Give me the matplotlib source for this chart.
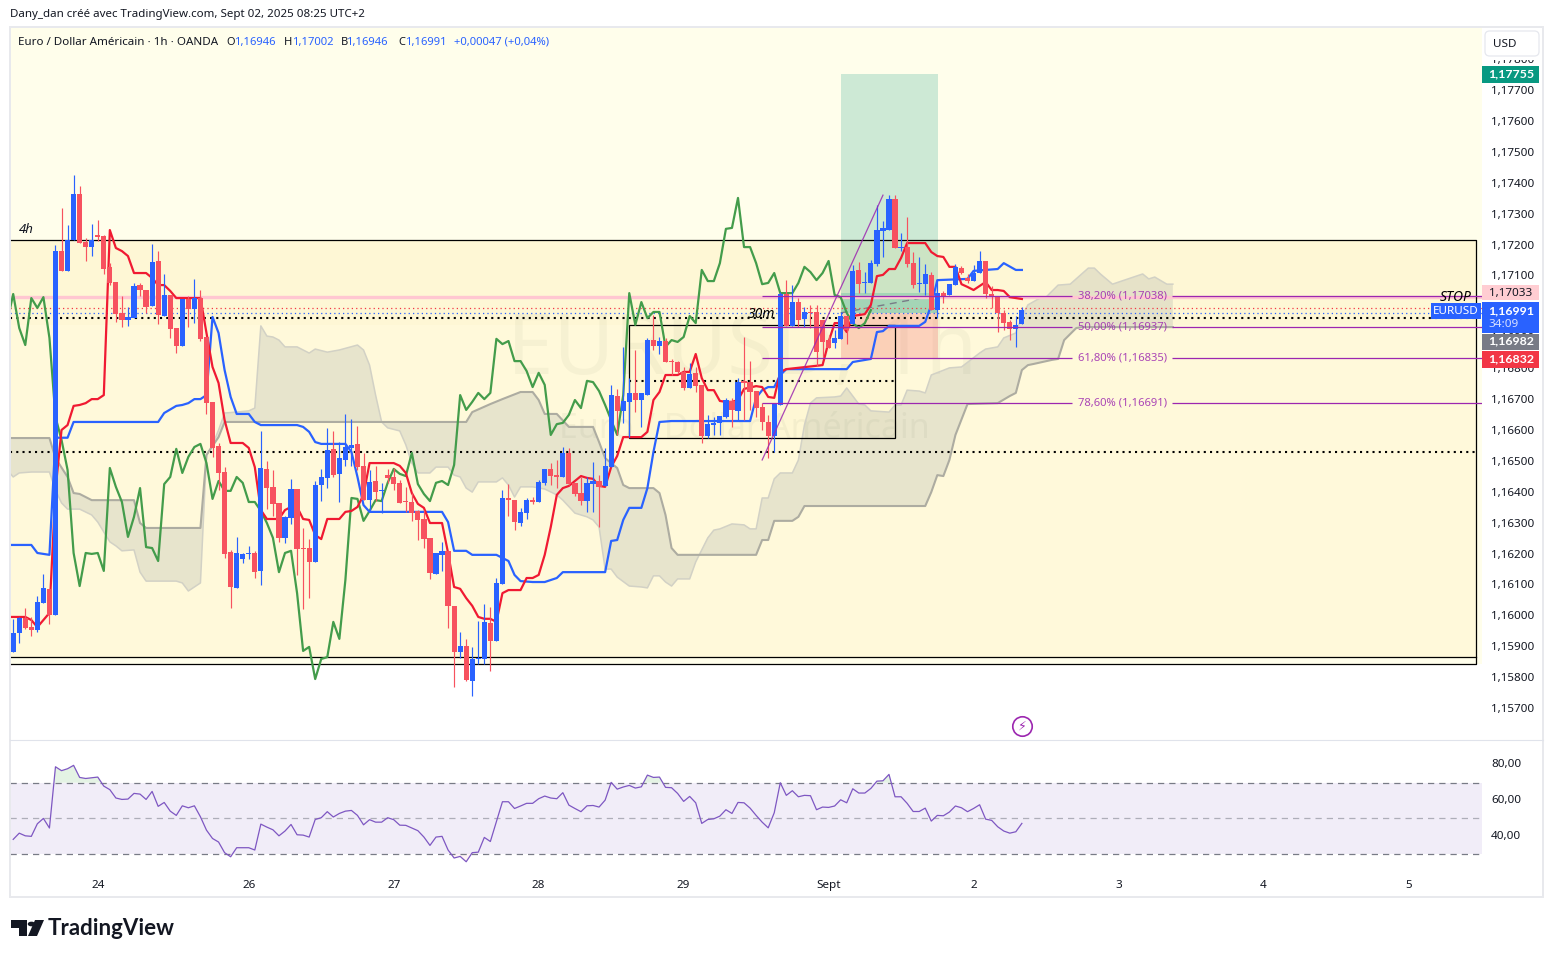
import numpy as np
import matplotlib
matplotlib.use('Agg')
import matplotlib.pyplot as plt
from matplotlib.patches import Rectangle, FancyBboxPatch, Polygon, Circle
from matplotlib.transforms import ScaledTranslation

plt.rcParams['font.family'] = ['Noto Sans', 'DejaVu Sans']

# ------------------- EURUSD 1h candles (1e-5 price units) -------------------
opens = [
    115885, 115946, 115995, 115965, 115956, 116043, 116089, 116005, 117182, 117118, 117218, 117367,
    117211, 117195, 117234, 117231, 117131, 117082, 116982, 116959, 116965, 117072, 117056, 117004,
    117150, 116972, 117040, 116933, 116875, 117027, 116995, 117030, 116904, 116694, 116551, 116467,
    116208, 116092, 116186, 116202, 116205, 116147, 116477, 116419, 116367, 116254, 116318, 116412,
    116221, 116221, 116176, 116425, 116448, 116541, 116461, 116506, 116545, 116558, 116487, 116376,
    116438, 116406, 116457, 116451, 116432, 116373, 116370, 116341, 116315, 116254, 116137, 116199,
    116212, 116034, 115885, 115904, 115791, 115862, 115862, 115978, 115920, 116105, 116383, 116376,
    116302, 116334, 116376, 116370, 116432, 116477, 116457, 116451, 116529, 116432, 116399, 116373,
    116428, 116438, 116422, 116483, 116713, 116665, 116694, 116723, 116700, 116716, 116894, 116875,
    116891, 116826, 116823, 116791, 116739, 116788, 116749, 116584, 116619, 116626, 116645, 116697,
    116665, 116762, 116758, 116729, 116677, 116629, 116584, 116684, 117043, 116940, 117017, 116962,
    116985, 116985, 116959, 116894, 116885, 116898, 116972, 116946, 117121, 117079, 117079, 117140,
    117247, 117250, 117351, 117192, 117195, 117143, 117075, 117075, 117105, 116991, 117046, 117040,
    117072, 117127, 117095, 117085, 117111, 117150, 117043, 117037, 116982, 116952, 116930, 116946]
highs = [
    115992, 115998, 116027, 115998, 116066, 116137, 116089, 117202, 117321, 117267, 117428, 117393,
    117224, 117270, 117283, 117234, 117143, 117082, 117037, 117001, 117079, 117079, 117056, 117205,
    117182, 117108, 117040, 116933, 117027, 117037, 117092, 117056, 116904, 116694, 116561, 116483,
    116215, 116257, 116205, 116228, 116212, 116600, 116503, 116474, 116367, 116325, 116445, 116412,
    116286, 116250, 116438, 116477, 116609, 116600, 116564, 116655, 116639, 116616, 116529, 116474,
    116487, 116432, 116477, 116480, 116441, 116419, 116399, 116344, 116344, 116254, 116205, 116241,
    116212, 116034, 115949, 115927, 115901, 115985, 116040, 116030, 116124, 116409, 116428, 116376,
    116351, 116383, 116386, 116441, 116477, 116496, 116506, 116548, 116545, 116432, 116451, 116451,
    116499, 116457, 116545, 116749, 116736, 116872, 116771, 116862, 116723, 116901, 116975, 116904,
    116901, 116833, 116826, 116807, 116820, 116807, 116749, 116652, 116645, 116648, 116707, 116707,
    116771, 116904, 116826, 116729, 116690, 116652, 116687, 117050, 117088, 117072, 117030, 117001,
    117008, 117008, 116959, 116911, 116927, 116985, 116972, 117137, 117147, 117114, 117153, 117331,
    117280, 117364, 117364, 117241, 117293, 117179, 117163, 117140, 117114, 117088, 117053, 117075,
    117140, 117134, 117108, 117137, 117182, 117150, 117069, 117037, 116991, 116959, 116972, 117002]
lows = [
    115885, 115914, 115959, 115936, 115950, 116043, 115975, 116005, 117118, 117118, 117218, 117208,
    117150, 117166, 117215, 117108, 117072, 116952, 116936, 116940, 116965, 117037, 116982, 117004,
    116946, 116972, 116901, 116852, 116875, 116936, 116949, 116891, 116655, 116516, 116409, 116189,
    116027, 116092, 116173, 116186, 116124, 116102, 116347, 116325, 116241, 116238, 116299, 116134,
    116024, 116059, 116176, 116373, 116415, 116451, 116370, 116487, 116487, 116474, 116376, 116337,
    116373, 116334, 116432, 116409, 116367, 116337, 116309, 116247, 116221, 116121, 116137, 116147,
    115962, 115771, 115865, 115791, 115742, 115846, 115846, 115823, 115920, 116105, 116325, 116279,
    116292, 116315, 116364, 116370, 116425, 116425, 116415, 116451, 116425, 116390, 116360, 116337,
    116337, 116289, 116422, 116483, 116587, 116626, 116580, 116661, 116613, 116716, 116862, 116849,
    116823, 116781, 116788, 116732, 116739, 116726, 116561, 116577, 116587, 116587, 116642, 116613,
    116635, 116635, 116668, 116645, 116603, 116512, 116532, 116684, 116940, 116940, 116936, 116936,
    116933, 116810, 116836, 116868, 116868, 116898, 116881, 116946, 117046, 117046, 117079, 117134,
    117163, 117250, 117192, 117182, 117131, 117063, 117050, 117040, 116991, 116965, 117014, 117040,
    117072, 117108, 117079, 117085, 117111, 117030, 116998, 116920, 116927, 116894, 116872, 116946]
closes = [
    115946, 115995, 115962, 115956, 116047, 116092, 116005, 117182, 117118, 117218, 117367, 117208,
    117195, 117218, 117228, 117124, 117079, 116978, 116959, 116969, 117069, 117056, 117001, 117147,
    116975, 117040, 116930, 116875, 117027, 116995, 117030, 116898, 116690, 116545, 116464, 116202,
    116095, 116205, 116202, 116205, 116143, 116480, 116416, 116364, 116254, 116322, 116412, 116218,
    116218, 116176, 116425, 116451, 116538, 116457, 116512, 116548, 116555, 116483, 116376, 116435,
    116402, 116409, 116448, 116428, 116367, 116370, 116334, 116312, 116250, 116140, 116205, 116212,
    116034, 115885, 115904, 115794, 115862, 115865, 115982, 115920, 116108, 116383, 116376, 116305,
    116338, 116376, 116370, 116435, 116477, 116454, 116451, 116529, 116428, 116396, 116373, 116432,
    116438, 116419, 116487, 116716, 116665, 116697, 116723, 116700, 116723, 116894, 116875, 116891,
    116823, 116823, 116791, 116739, 116784, 116745, 116584, 116622, 116626, 116648, 116700, 116668,
    116758, 116755, 116726, 116674, 116629, 116584, 116687, 117043, 116940, 117017, 116959, 116985,
    116982, 116855, 116888, 116868, 116901, 116972, 116927, 117118, 117075, 117082, 117143, 117250,
    117257, 117351, 117192, 117195, 117140, 117072, 117079, 117108, 116991, 117046, 117037, 117075,
    117131, 117111, 117085, 117111, 117150, 117043, 117037, 116982, 116949, 116930, 116943, 116991]

# ------------------- Ichimoku lines, read at their corners -------------------
tenkan_bar = [-1, 2, 3, 4, 6, 7, 8, 9, 10, 11, 12, 13, 14, 15, 16, 17, 18, 19, 20, 22, 23, 24, 25, 26, 27, 31, 32, 33,
              34, 35, 36, 38, 39, 40, 41, 42, 44, 45, 46, 47, 48, 49, 50, 51, 52, 54, 55, 56, 57, 58, 59, 63, 64, 65,
              66, 67, 68, 69, 71, 72, 73, 74, 75, 76, 77, 78, 79, 80, 81, 82, 84, 85, 86, 87, 88, 89, 90, 91, 92, 93,
              94, 95, 96, 97, 98, 99, 100, 101, 104, 105, 106, 107, 108, 110, 111, 112, 113, 114, 115, 116, 117, 118,
              119, 120, 121, 123, 124, 125, 126, 127, 128, 134, 135, 136, 137, 138, 139, 141, 142, 143, 144, 145, 146,
              147, 148, 151, 152, 153, 154, 155, 156, 157, 158, 159, 161, 162, 163, 164, 165, 166, 167]
tenkan = [115998, 115998, 115988, 115965, 116011, 116409, 116603, 116619, 116681, 116684, 116690, 116703, 116703,
          116716, 117250, 117192, 117182, 117166, 117111, 117111, 117095, 117072, 117072, 117053, 117030, 117030,
          116917, 116807, 116755, 116635, 116561, 116561, 116545, 116483, 116344, 116315, 116315, 116344, 116354,
          116354, 116315, 116312, 116263, 116250, 116315, 116315, 116338, 116341, 116354, 116393, 116496, 116496,
          116487, 116464, 116399, 116364, 116351, 116302, 116302, 116205, 116095, 116089, 116059, 116034, 115998,
          115992, 115992, 115982, 116075, 116085, 116085, 116124, 116124, 116134, 116199, 116289, 116393, 116415,
          116422, 116438, 116454, 116448, 116445, 116422, 116419, 116483, 116519, 116580, 116580, 116597, 116700,
          116726, 116781, 116781, 116791, 116791, 116849, 116771, 116732, 116732, 116697, 116694, 116694, 116700,
          116736, 116745, 116742, 116710, 116707, 116791, 116800, 116813, 116888, 116949, 116949, 116920, 116972,
          116978, 117008, 117101, 117105, 117124, 117124, 117160, 117208, 117208, 117179, 117166, 117163, 117131,
          117131, 117075, 117066, 117056, 117082, 117056, 117056, 117053, 117033, 117030, 117027]
kijun_bar = [-1, 3, 4, 6, 7, 9, 10, 24, 25, 27, 28, 29, 30, 31, 32, 33, 34, 35, 36, 37, 39, 40, 41, 47, 48, 49, 50, 51,
             55, 56, 57, 58, 59, 71, 72, 73, 75, 76, 80, 82, 83, 84, 86, 88, 90, 91, 98, 99, 100, 101, 102, 104, 105,
             106, 107, 109, 122, 123, 124, 125, 126, 127, 128, 138, 139, 142, 143, 144, 145, 150, 151, 152, 153, 158,
             159, 163, 164, 166, 167]
kijun = [116231, 116231, 116205, 116199, 116578, 116578, 116629, 116629, 116658, 116681, 116684, 116690, 116703,
         116703, 116716, 116969, 116917, 116797, 116710, 116655, 116655, 116629, 116619, 116619, 116613, 116597,
         116564, 116558, 116558, 116532, 116451, 116360, 116338, 116338, 116305, 116212, 116212, 116199, 116199,
         116179, 116134, 116114, 116111, 116111, 116124, 116143, 116143, 116244, 116247, 116312, 116351, 116351,
         116415, 116532, 116629, 116632, 116632, 116707, 116732, 116742, 116742, 116781, 116800, 116800, 116823,
         116833, 116920, 116923, 116940, 116940, 116953, 117008, 117088, 117092, 117118, 117124, 117143, 117121,
         117121]
# chikou: every bar, from one bar before the left edge
chikou = [116952, 117043, 116933, 116878, 117030, 116998, 117033, 116901, 116645, 116571, 116474, 116205, 116098,
          116205, 116202, 116205, 116147, 116480, 116419, 116370, 116257, 116322, 116415, 116224, 116221, 116179,
          116428, 116451, 116542, 116464, 116516, 116548, 116558, 116496, 116380, 116438, 116406, 116406, 116451,
          116432, 116370, 116370, 116341, 116302, 116254, 116143, 116205, 116212, 116075, 115888, 115901, 115797,
          115862, 115868, 115982, 115927, 116118, 116383, 116380, 116309, 116341, 116376, 116373, 116432, 116477,
          116461, 116454, 116529, 116428, 116396, 116373, 116432, 116438, 116425, 116490, 116716, 116668, 116694,
          116723, 116703, 116723, 116898, 116881, 116891, 116826, 116826, 116794, 116742, 116788, 116749, 116587,
          116622, 116626, 116652, 116700, 116674, 116762, 116758, 116729, 116684, 116635, 116587, 116716, 117046,
          116943, 117017, 116965, 116985, 116985, 116872, 116894, 116888, 116904, 116972, 116949, 117121, 117085,
          117085, 117143, 117254, 117257, 117354, 117195, 117195, 117143, 117075, 117079, 117111, 117046, 117046,
          117046, 117079, 117131, 117114, 117088, 117111, 117150, 117040, 117033, 116982, 116949, 116933, 116949,
          116991]
span_b_bar = [-1, 6, 7, 9, 10, 11, 13, 20, 21, 22, 31, 32, 34, 35, 75, 76, 79, 81, 84, 86, 87, 88, 90, 92, 96, 97, 98,
              100, 101, 102, 106, 107, 108, 109, 110, 123, 124, 125, 126, 129, 130, 131, 151, 152, 153, 154, 155, 156,
              158, 163, 165, 166, 167, 168, 169, 172, 173, 174, 176, 177, 192]
span_b = [116577, 116577, 116512, 116451, 116399, 116396, 116376, 116376, 116302, 116286, 116286, 116522, 116580,
          116629, 116629, 116661, 116687, 116703, 116726, 116726, 116700, 116655, 116655, 116613, 116613, 116564,
          116512, 116480, 116425, 116415, 116415, 116399, 116328, 116221, 116199, 116199, 116247, 116247, 116309,
          116309, 116322, 116357, 116357, 116402, 116457, 116454, 116506, 116587, 116687, 116690, 116713, 116723,
          116797, 116813, 116817, 116830, 116833, 116894, 116933, 116936, 116936]
span_a_bar = [-1, 0, 1, 3, 6, 7, 8, 9, 11, 13, 14, 16, 17, 18, 20, 21, 22, 27, 28, 29, 31, 32, 33, 34, 35, 37, 39, 40,
              41, 42, 43, 44, 45, 47, 49, 50, 52, 54, 57, 58, 59, 60, 61, 62, 64, 65, 66, 67, 69, 70, 72, 73, 74, 75,
              76, 77, 80, 81, 82, 83, 84, 86, 88, 90, 91, 93, 95, 96, 97, 98, 99, 100, 102, 104, 105, 106, 107, 108,
              109, 110, 112, 113, 115, 116, 117, 119, 121, 122, 123, 124, 125, 126, 127, 129, 130, 131, 132, 133, 136,
              137, 138, 140, 141, 142, 145, 146, 147, 148, 150, 151, 152, 155, 157, 160, 161, 163, 164, 166, 167, 168,
              170, 171, 173, 175, 178, 179, 180, 182, 185, 187, 188, 189, 191, 192]
span_a = [116474, 116451, 116464, 116467, 116467, 116409, 116367, 116347, 116347, 116328, 116305, 116241, 116228,
          116212, 116215, 116143, 116114, 116114, 116108, 116082, 116108, 116522, 116555, 116603, 116658, 116661,
          116665, 116674, 116940, 116907, 116904, 116894, 116872, 116872, 116852, 116865, 116855, 116862, 116878,
          116862, 116813, 116716, 116629, 116610, 116600, 116555, 116496, 116464, 116464, 116483, 116483, 116457,
          116451, 116415, 116402, 116435, 116435, 116448, 116425, 116386, 116419, 116419, 116412, 116393, 116376,
          116334, 116322, 116312, 116289, 116153, 116153, 116127, 116098, 116095, 116092, 116131, 116131, 116111,
          116098, 116121, 116121, 116176, 116254, 116279, 116283, 116299, 116296, 116283, 116283, 116383, 116383,
          116445, 116464, 116464, 116506, 116619, 116690, 116707, 116710, 116713, 116739, 116687, 116684, 116665,
          116661, 116684, 116684, 116732, 116729, 116723, 116781, 116804, 116807, 116852, 116865, 116872, 116901,
          116917, 116969, 117008, 117030, 117033, 117072, 117075, 117127, 117127, 117108, 117075, 117095, 117108,
          117092, 117098, 117075, 117075]

# ------------------- RSI, every bar -------------------
rsi = [38.1, 41.6, 40.1, 39.8, 46.9, 49.9, 44.5, 79.0, 76.8, 77.9, 79.8, 73.0, 72.4, 72.8, 73.2, 68.1, 66.1, 61.4,
       60.6, 60.8, 64.0, 63.6, 60.6, 65.1, 56.7, 58.9, 54.0, 51.6, 57.0, 55.9, 57.0, 50.8, 43.3, 38.6, 36.6, 30.6,
       28.3, 33.4, 33.4, 33.4, 32.1, 46.7, 45.0, 43.5, 40.1, 42.8, 46.5, 40.7, 40.5, 39.4, 49.3, 50.3, 53.7, 50.7,
       52.7, 54.0, 54.4, 51.6, 46.3, 49.2, 47.8, 47.8, 50.3, 49.2, 46.1, 46.0, 44.5, 43.0, 39.4, 34.7, 39.4, 39.8,
       32.1, 27.6, 28.5, 25.5, 30.6, 30.9, 39.2, 36.9, 48.0, 59.3, 59.3, 55.5, 56.9, 58.4, 58.4, 61.0, 62.5, 61.4,
       61.0, 64.4, 57.4, 55.5, 53.7, 57.0, 57.2, 56.3, 60.2, 70.2, 66.4, 67.6, 68.5, 67.0, 67.7, 74.3, 73.0, 73.2,
       67.4, 67.2, 64.0, 59.5, 62.3, 58.7, 47.1, 49.3, 49.7, 51.2, 54.8, 52.7, 58.9, 58.7, 55.7, 51.6, 47.8, 44.6,
       53.1, 70.0, 62.9, 65.5, 62.1, 62.9, 62.7, 54.8, 56.3, 56.1, 56.9, 60.4, 58.7, 66.6, 64.2, 64.2, 66.8, 70.9,
       71.1, 74.7, 62.1, 62.1, 58.4, 53.8, 53.8, 55.7, 48.4, 51.6, 51.4, 53.5, 56.9, 55.9, 53.7, 55.5, 57.6, 49.5,
       48.8, 45.2, 42.8, 41.6, 42.4, 47.1]

# ------------------- Levels and labels -------------------
fib_pct = [38.20, 50.00, 61.80, 78.60]
fib_price = [1.17038, 1.16937, 1.16835, 1.16691]
fib_trend_price = [1.16506, 1.17363]
day_bars = [14, 39, 63, 87, 111, 135, 159, 183, 207, 231]
day_labels = ['24', '26', '27', '28', '29', 'Sept', '2', '3', '4', '5']
price_ticks = [1.157 + 0.001 * k for k in range(22)]
rsi_ticks = [40, 60, 80]
tp_price, entry_price, sl_price = 1.17755, 1.16982, 1.16832
stop_price, last_price = 1.17033, 1.16991

UP, DOWN = '#2962FF', '#F7525F'
PURPLE = '#9C27B0'
INK = '#131722'
W, H = 1553, 958


def fx(x):
    return x / W


def fy(y):
    return 1 - y / H


def fmt(p, n=5):
    return f'{p:.{n}f}'.replace('.', ',')


fig = plt.figure(figsize=(W / 100, H / 100), dpi=100, facecolor='white')
ax = fig.add_axes([fx(10), fy(739), fx(1472), 711 / H])
ax2 = fig.add_axes([fx(10), fy(872), fx(1472), 132 / H])
xmin, xmax = -0.53, 243.18
ymin, ymax = 1.15603, 1.17904

# ------ Backgrounds and zones --------
ax.axhspan(1.15846, ymax, color='#FFFEEB', lw=0, zorder=0)
ax.add_patch(Rectangle((xmin, 1.15869), 242.2 - xmin, 1.17218 - 1.15869, fc='#FFF9DA', ec='none', zorder=0.1))
ax.add_patch(Rectangle((xmin, 1.16943), 242.2 - xmin, 1.17218 - 1.16943, fc='#FDF3C4', ec='none', alpha=0.2, zorder=0.2))
ax.add_patch(Rectangle((102, 1.16577), 44, 1.16943 - 1.16577, fc='#FDF3C4', ec='none', alpha=0.25, zorder=0.2))
ax.plot([xmin, 242.2, 242.2, xmin], [1.17218, 1.17218, 1.15846, 1.15846], c='black', lw=0.9, zorder=2)
ax.plot([xmin, 242.2], [1.15869, 1.15869], c='black', lw=0.9, zorder=2)
ax.add_patch(Rectangle((102, 1.16577), 44, 1.16943 - 1.16577, fc='none', ec='black', lw=0.9, zorder=2))

# watermark
ax.text(120.7, 1.16855, 'EURUSD, 1h', ha='center', va='center', fontsize=60, color='#8a8a70', alpha=0.07, zorder=0.5)
ax.text(121, 1.16605, 'Euro / Dollar Américain', ha='center', va='center', fontsize=24.5, color='#8a8a70', alpha=0.08, zorder=0.5)

# ------ Long position tool --------
ax.add_patch(Rectangle((137, entry_price), 16.1, tp_price - entry_price, fc='#089981', alpha=0.2, ec='none', zorder=1))
ax.add_patch(Rectangle((137, sl_price), 16.1, entry_price - sl_price, fc='#F23645', alpha=0.2, ec='none', zorder=1))
ax.add_patch(Rectangle((137, entry_price), 16.1, 1.17046 - entry_price, fc='#089981', alpha=0.2, ec='none', zorder=1))
ax.plot([137, 153.1], [entry_price, 1.1704], c='#787B86', lw=1, ls=(0, (5, 4)), zorder=1.5)

# ------ Ichimoku cloud --------
a_bar, b_bar = np.array(span_a_bar), np.array(span_b_bar)
a_val, b_val = np.array(span_a) / 1e5, np.array(span_b) / 1e5
ax.fill(np.r_[a_bar, b_bar[::-1]], np.r_[a_val, b_val[::-1]], fc='#5f6f80', alpha=0.15, ec='none', zorder=1.2)
ax.plot(a_bar, a_val, c='#D2D1C5', lw=1.1, zorder=1.3)
ax.plot(b_bar, b_val, c='#ADACA1', lw=1.5, zorder=1.3)

# ------ Horizontal levels --------
ax.axhline(stop_price, c='#FFC7D1', lw=2.4, zorder=1.6)
ax.axhline(1.16997, c='#F23645', lw=0.9, ls=(0, (1, 2.5)), zorder=1.7)
ax.axhline(entry_price, c='#2962FF', lw=0.9, ls=(0, (1, 2.5)), zorder=1.7)
ax.hlines([1.16965, 1.16532], xmin, 242.2, colors='black', lw=1.5, linestyles=(0, (1, 2)), zorder=1.8)
ax.hlines(1.16762, 102, 146, colors='black', lw=1.5, linestyles=(0, (1, 2)), zorder=1.8)

# ------ Indicator lines --------
ax.plot(np.arange(-1, len(chikou) - 1), np.array(chikou) / 1e5, c='#439C4B', lw=1.6, zorder=3)
ax.plot(kijun_bar, np.array(kijun) / 1e5, c=UP, lw=1.6, zorder=3.1)
ax.plot(tenkan_bar, np.array(tenkan) / 1e5, c='#F01A32', lw=1.6, zorder=3.2)

# ------ Candles --------
o, h, l, c = [np.array(v) / 1e5 for v in (opens, highs, lows, closes)]
bars = np.arange(len(o))
colors = np.where(c >= o, UP, DOWN)
ax.vlines(bars, l, h, colors=colors, lw=0.85, zorder=4)
ax.bar(bars, np.abs(c - o), bottom=np.minimum(o, c), width=0.86, color=colors, lw=0, zorder=4.1)

# ------ Fibonacci --------
ax.plot([124, 144], fib_trend_price, c=PURPLE, lw=0.9, alpha=0.85, zorder=5)
for pct, price in zip(fib_pct, fib_price):
    ax.hlines(price, 124, 175.3, colors=PURPLE, lw=0.9, zorder=5)
    ax.hlines(price, 191.8, xmax, colors=PURPLE, lw=0.9, zorder=5)
    ax.text(183.6, price, f'{fmt(pct, 2)}% ({fmt(price)})', color=PURPLE, alpha=0.85, fontsize=8.1,
            ha='center', va='center', zorder=5)

# ------ Annotations --------
ax.text(1.0, 1.17230, '4h', style='italic', fontsize=9.5, color=INK, va='bottom', zorder=6)
ax.text(121.6, 1.16978, '30m', style='italic', fontsize=10, color='black', va='center', zorder=6)
ax.text(236.2, stop_price, 'STOP', style='italic', fontsize=10, color='black', va='center', zorder=6)

# event marker
ax.plot([167], [1.15645], 'o', ms=14, mfc='white', mec=PURPLE, mew=1.2, zorder=6)
ax.text(167, 1.15645, '\u26A1', family='DejaVu Sans', color=PURPLE, fontsize=9, ha='center', va='center', zorder=7)

ax.set_xlim(xmin, xmax)
ax.set_ylim(ymin, ymax)
ax.yaxis.tick_right()
ax.set_yticks(price_ticks)
ax.set_yticklabels([fmt(p) for p in price_ticks], fontsize=8.4, color=INK)
ax.tick_params(axis='y', length=0, pad=6.5)
ax.set_xticks([])
for s in ax.spines.values():
    s.set_visible(False)
for t in ax.get_yticklabels():
    t.set_transform(t.get_transform() + ScaledTranslation(0, 1 / 100, fig.dpi_scale_trans))

# ------ RSI panel --------
ax2.axhspan(30, 70, color='#7E57C2', alpha=0.1, lw=0)
ax2.axhline(70, c='#787B86', lw=0.9, ls=(0, (5, 4)))
ax2.axhline(50, c='#787B86', lw=0.9, ls=(0, (5, 4)), alpha=0.55)
ax2.axhline(30, c='#787B86', lw=0.9, ls=(0, (5, 4)))
rsi_arr = np.array(rsi)
ax2.fill_between(bars, 70, rsi_arr, where=rsi_arr > 70, interpolate=True, color='#4CAF50', alpha=0.15, lw=0)
ax2.fill_between(bars, 30, rsi_arr, where=rsi_arr < 30, interpolate=True, color='#F23645', alpha=0.05, lw=0)
ax2.plot(bars, rsi_arr, c='#7E57C2', lw=0.9)
ax2.set_xlim(xmin, xmax)
ax2.set_ylim(19.72, 94.08)
ax2.yaxis.tick_right()
ax2.set_yticks(rsi_ticks)
ax2.set_yticklabels([fmt(v, 2) for v in rsi_ticks], fontsize=8.4, color=INK)
ax2.tick_params(axis='y', length=0, pad=6.5)
ax2.set_xticks(day_bars)
ax2.set_xticklabels(day_labels, fontsize=8.4, color=INK)
ax2.tick_params(axis='x', length=0, pad=5.7)
for s in ax2.spines.values():
    s.set_visible(False)
for t in ax2.get_yticklabels():
    t.set_transform(t.get_transform() + ScaledTranslation(0, 1.5 / 100, fig.dpi_scale_trans))


# ------ Chrome in figure pixels --------
def box(x0, y0, x1, y1, color, z=10, **kw):
    p = Rectangle((fx(x0), fy(y1)), fx(x1 - x0), (y1 - y0) / H, transform=fig.transFigure, fc=color,
                  ec=kw.pop('ec', 'none'), lw=kw.pop('lw', 0), zorder=z, clip_on=False, **kw)
    fig.add_artist(p)


def label(x, y, s, color='white', size=8.4, ha='center', **kw):
    fig.text(fx(x), fy(y + 0.8), s, color=color, fontsize=size, ha=ha, va='center', zorder=11, **kw)


# frame
box(10, 27, 1543, 897, 'none', z=9, ec='#E8E9ED', lw=1.4)
fig.add_artist(plt.Line2D([fx(10), fx(1543)], [fy(739.5)] * 2, color='#E0E3EB', lw=0.8, zorder=9))

box(1483, 28, 1541, 60, 'white')
usd = FancyBboxPatch((fx(1485), fy(56)), fx(54), 25 / H, boxstyle='round,pad=0,rounding_size=0.003', ec='#E6E8EE',
                     fc='white', lw=0.9, transform=fig.transFigure, zorder=10.1, mutation_aspect=1.6)
fig.add_artist(usd)
label(1505, 43.5, 'USD', color=INK)

box(1482, 66, 1538.5, 83, '#089981')
label(1511, 73.5, fmt(tp_price), family='Lato', weight='bold', size=8.9)
box(1482, 285, 1538.5, 300, '#FFCDD2')
label(1511, 292.5, fmt(stop_price), color=INK)
box(1430.5, 303, 1481, 319, UP)
label(1456, 310.5, 'EURUSD')
box(1482, 302, 1538.5, 333, UP)
label(1511, 310, fmt(last_price), family='Lato', weight='bold', size=8.9)
label(1504, 323.5, '34:09', color='#D6E0FF')
box(1482, 333.5, 1538.5, 350, '#787B86')
label(1511, 340.5, fmt(entry_price), family='Lato', weight='bold', size=8.9)
box(1482, 351, 1538.5, 368, '#F23645')
label(1511, 358.5, fmt(sl_price), family='Lato', weight='bold', size=8.9)

# header and legend
label(10, 14, 'Dany_dan créé avec TradingView.com, Sept 02, 2025 08:25 UTC+2', color=INK, size=8.3, ha='left')
label(18, 41.5, 'Euro / Dollar Américain · 1h · OANDA', color=INK, size=8.35, ha='left')
for x, s in [(226, 'O'), (284, 'H'), (340.5, 'B'), (398, 'C')]:
    label(x, 41.5, s, color=INK, size=8, ha='left')
for x, s in [(234, '1,16946'), (292, '1,17002'), (346, '1,16946'), (405, '1,16991'), (453.5, '+0,00047 (+0,04%)')]:
    label(x, 41.5, s, color=UP, size=8.1, ha='left')

# TradingView logo
fig.add_artist(Polygon([(fx(x), fy(y)) for x, y in [(11, 920), (27, 920), (27, 936), (19, 936), (19, 928), (11, 928)]],
                       closed=True, fc=INK, ec='none', transform=fig.transFigure))
fig.add_artist(Polygon([(fx(x), fy(y)) for x, y in [(35, 920), (44, 920), (37, 936), (28, 936)]],
                       closed=True, fc=INK, ec='none', transform=fig.transFigure))
fig.add_artist(Circle((fx(31.5), fy(924)), 3.8 / W, fc=INK, ec='none', transform=fig.transFigure))
label(48, 927.5, 'TradingView', color=INK, size=16, ha='left', family='Lato', weight='bold')

fig.savefig('out.png', dpi=100)
